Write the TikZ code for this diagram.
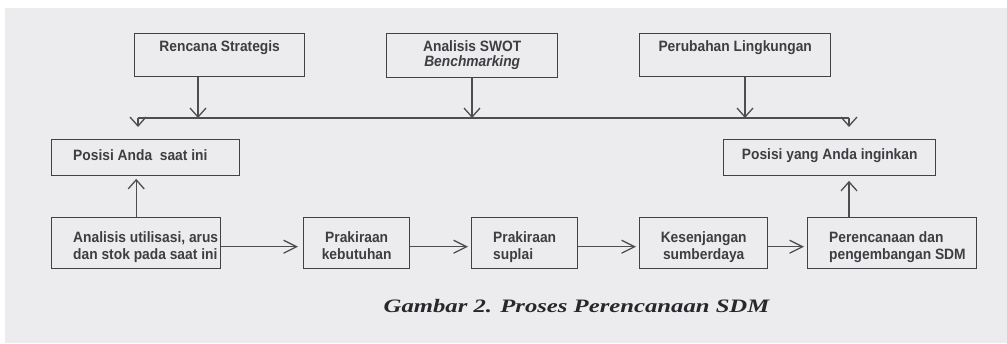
\documentclass[tikz,border=0pt]{standalone}
\usepackage{fontspec}
\setmainfont{Liberation Sans}
\newfontfamily\capfont{Liberation Serif}
\usetikzlibrary{arrows.meta,calc}
\definecolor{paper}{RGB}{236,236,239}
\definecolor{ink}{RGB}{62,62,66}
\definecolor{frame}{RGB}{66,66,70}
\definecolor{wire}{RGB}{78,78,82}
% condensed bold label text, one or more lines
\newcommand\lbl[2][c]{\scalebox{0.92}[1]{\begin{tabular}[t]{@{}#1@{}}#2\end{tabular}}}

\begin{document}
\begin{tikzpicture}[x=1pt,y=-1pt,
  box/.style={draw=frame, line width=1.4pt, inner sep=0pt, anchor=north west},
  txt/.style={inner sep=0pt, text=ink, font=\bfseries\fontsize{15}{16.5}\selectfont},
  conn/.style={draw=wire, line width=1.3pt},
  varr/.style={conn, -{Straight Barb[length=9pt,width=16pt,line width=1.3pt]}},
  harr/.style={conn, -{Straight Barb[length=13pt,width=13pt,line width=1.3pt]}}
]
% page
\useasboundingbox (0,0) rectangle (1007,343);
\fill[white] (0,0) rectangle (1007,343);
\fill[paper] (5,8) rectangle (1007,343);

% top row: inputs
\node[box, minimum width=170pt, minimum height=43pt] (rs) at (134,33) {};
\node[box, minimum width=171pt, minimum height=44pt] (sw) at (386,33) {};
\node[box, minimum width=191pt, minimum height=43pt] (pl) at (639,33) {};

\node[txt, anchor=base] at ($(rs.north)+(0,18)$) {\lbl{Rencana Strategis}};
\node[txt, anchor=north, font=\bfseries\fontsize{15}{15}\selectfont]
  at ($(sw.north)+(0,7.5)$) {\lbl{Analisis SWOT\\\itshape Benchmarking}};
\node[txt, anchor=base] at ($(pl.north)+(0,18)$) {\lbl{Perubahan Lingkungan}};

% middle row: positions
\node[box, minimum width=188pt, minimum height=36pt] (pa) at (51,139) {};
\node[box, minimum width=212pt, minimum height=36pt] (py) at (723,139) {};

\node[txt, anchor=base west] at ($(pa.north west)+(22,21)$) {\lbl{Posisi Anda\ \ saat ini}};
\node[txt, anchor=base] at ($(py.north)+(0,20)$) {\lbl{Posisi yang Anda inginkan}};

% bottom row: process steps
\node[box, minimum width=169pt, minimum height=51pt] (au) at (51,217) {};
\node[box, minimum width=106pt, minimum height=51pt] (pk) at (303,217) {};
\node[box, minimum width=106pt, minimum height=51pt] (ps) at (471,217) {};
\node[box, minimum width=128pt, minimum height=51pt] (ks) at (639,217) {};
\node[box, minimum width=169pt, minimum height=51pt] (pp) at (807,217) {};

\node[txt, anchor=north west] at ($(au.north west)+(22,14)$)
  {\lbl[l]{Analisis utilisasi, arus\\dan stok pada saat ini}};
\node[txt, anchor=north] at ($(pk.north)+(0,14)$)
  {\lbl{Prakiraan\\kebutuhan}};
\node[txt, anchor=north west] at ($(ps.north west)+(22,14)$)
  {\lbl[l]{Prakiraan\\suplai}};
\node[txt, anchor=north] at ($(ks.north)+(0,14)$)
  {\lbl{Kesenjangan\\sumberdaya}};
\node[txt, anchor=north west] at ($(pp.north west)+(22,14)$)
  {\lbl[l]{Perencanaan dan\\pengembangan SDM}};

% distribution bar
\coordinate (barL) at (138,118);
\coordinate (barR) at (849,118);
\coordinate (d1) at (198,118);
\coordinate (d2) at (472,118);
\coordinate (d3) at (745,118);
\draw[conn] (barL) -- (barR);

\draw[varr] (rs.south -| d1) -- (d1);
\draw[varr] (sw.south -| d2) -- (d2);
\draw[varr] (pl.south -| d3) -- (d3);

\draw[varr] (barL) -- ($(pa.north -| barL)+(0,-12)$);
\draw[varr] (barR) -- ($(py.north -| barR)+(0,-12)$);

% feedback to positions
\draw[varr] (au.north) -- ($(pa.south -| au.north)+(0,2.5)$);
\draw[varr] (pp.north -| barR) -- ($(py.south -| barR)+(0,4.5)$);

% process chain
\draw[harr] ($(au.east)+(0,3.5)$) -- ($(pk.west)+(-5,3.5)$);
\draw[harr] ($(pk.east)+(0,3.5)$) -- ($(ps.west)+(-3,3.5)$);
\draw[harr] ($(ps.east)+(0,3.5)$) -- ($(ks.west)+(-3,3.5)$);
\draw[harr] ($(ks.east)+(0,3.5)$) -- ($(pp.west)+(-3,3.5)$);

% caption
\node[inner sep=0pt, anchor=base, text={rgb,255:red,40;green,40;blue,44},
  font=\capfont\bfseries\itshape\fontsize{19}{19}\selectfont]
  (cap) at (576.5,312) {\scalebox{1.3}[1]{Gambar 2. Proses Perencanaan SDM}};
\end{tikzpicture}
\end{document}
